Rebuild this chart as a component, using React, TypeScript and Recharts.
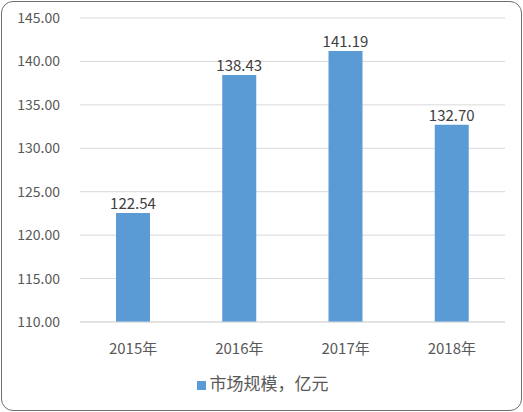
import { BarChart, Bar, XAxis, YAxis, CartesianGrid, Legend, LabelList } from 'recharts'

const years = ['2015年', '2016年', '2017年', '2018年']
const marketSize = [122.54, 138.43, 141.19, 132.7]
const yTicks = [110, 115, 120, 125, 130, 135, 140, 145]
const seriesName = '市场规模，亿元'

const data = years.map((year, i) => ({ year, value: marketSize[i] }))

const font = '"Noto Sans CJK SC", "Noto Sans", sans-serif'

export default function App() {
  return (
    <div style={{ position: 'absolute', left: 0, top: 0, width: 523, height: 412, background: '#fff', fontFamily: font }}>
      <div
        style={{
          position: 'absolute',
          left: 1,
          top: 1,
          width: 521,
          height: 410,
          boxSizing: 'border-box',
          border: '1.5px solid #6e6e6e',
          borderRadius: 12,
        }}
      />
      <div style={{ position: 'absolute', left: 0, top: 0 }}>
        <BarChart
          width={523}
          height={412}
          data={data}
          margin={{ top: 18, right: 18, left: 0, bottom: 35 }}
          barSize={34}
        >
          <CartesianGrid vertical={false} stroke="#d9d9d9" />
          <XAxis
            dataKey="year"
            axisLine={{ stroke: '#d9d9d9' }}
            tickLine={false}
            tick={{ fill: '#595959', fontSize: 15, fontFamily: font }}
            tickMargin={15}
          />
          <YAxis
            width={80}
            domain={[110, 145]}
            ticks={yTicks}
            axisLine={false}
            tickLine={false}
            tickFormatter={(v: number) => v.toFixed(2)}
            tick={{ fill: '#595959', fontSize: 14, fontFamily: font, dx: -12 }}
          />
          <Legend
            verticalAlign="bottom"
            iconType="square"
            iconSize={9}
            wrapperStyle={{ bottom: 17, left: 15, fontSize: 17, fontFamily: font }}
            formatter={(v: string) => <span style={{ color: '#595959' }}>{v}</span>}
          />
          <Bar dataKey="value" name={seriesName} fill="#5b9bd5" isAnimationActive={false}>
            <LabelList
              dataKey="value"
              position="top"
              offset={4}
              formatter={(v: number) => v.toFixed(2)}
              style={{ fill: '#404040', fontSize: 15, fontFamily: font }}
            />
          </Bar>
        </BarChart>
      </div>
    </div>
  )
}
